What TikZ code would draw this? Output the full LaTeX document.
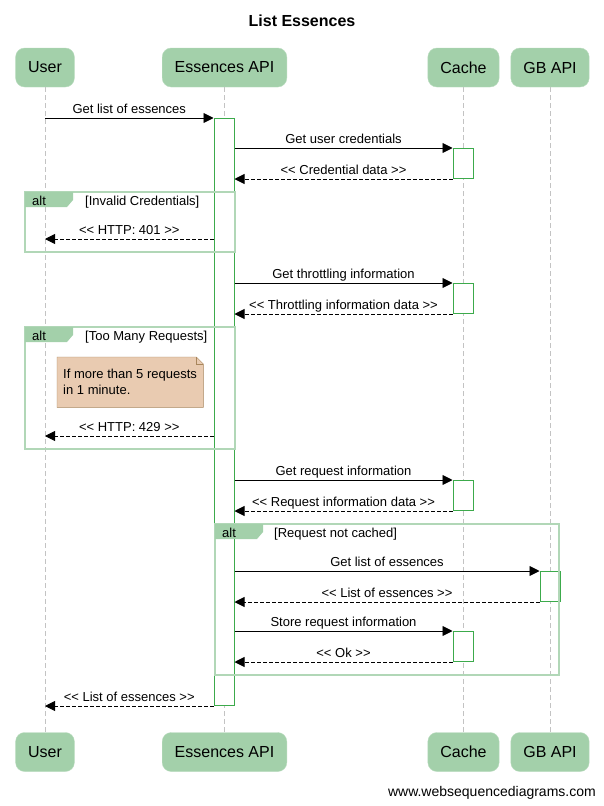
\documentclass[tikz,border=0pt]{standalone}
\usepackage{fontspec}
\setmainfont{Liberation Sans}
\usetikzlibrary{arrows.meta,calc,positioning}

\definecolor{boxgreen}{RGB}{163,208,170}
\definecolor{actgreen}{RGB}{60,170,75}
\definecolor{lifegray}{RGB}{195,195,195}
\definecolor{notefill}{RGB}{233,203,177}
\definecolor{notedraw}{RGB}{168,134,92}

\newcommand{\retopen}{<\kern0pt<}
\newcommand{\retclose}{>\kern0pt>}

\begin{document}
\begin{tikzpicture}[x=1pt, y=-1pt,
	party/.style={rectangle, rounded corners=9pt, fill=boxgreen, draw=boxgreen!75!white, minimum height=39pt, inner xsep=12.5pt, font=\fontsize{16}{19}\selectfont},
	life/.style={draw=lifegray, dash pattern=on 5pt off 3pt, line width=1pt},
	actbar/.style={draw=actgreen, fill=white, minimum width=20pt, inner sep=0pt, anchor=north, line width=1pt},
	msg/.style={-{Triangle[length=10pt,width=10pt]}, line width=0.9pt},
	ret/.style={msg, dash pattern=on 3.5pt off 2.5pt},
	lbl/.style={midway, anchor=base, yshift=4.5pt, inner sep=0pt, font=\fontsize{13}{16}\selectfont},
	altframe/.style={draw=boxgreen!85!white, line width=1.6pt},
	alttab/.style={fill=boxgreen},
	guard/.style={anchor=base west, inner sep=0pt, font=\fontsize{13}{16}\selectfont}
	]
		\useasboundingbox[fill=white] (0,0) rectangle (604,806);
		\node[font=\bfseries\fontsize{16}{19}\selectfont] (title) at (302,20.5) {List Essences};

		% participants
		\node[party] (userTop) at (45,67.5) {User};
		\node[party] (apiTop) at (224.5,67.5) {Essences API};
		\node[party] (cacheTop) at (463.5,67.5) {Cache};
		\node[party] (gbTop) at (550,67.5) {GB API};
		\node[party] (userBot) at (45,752) {User};
		\node[party] (apiBot) at (224.5,752) {Essences API};
		\node[party] (cacheBot) at (463.5,752) {Cache};
		\node[party] (gbBot) at (550,752) {GB API};
		\draw[life] (userTop) -- (userBot);
		\draw[life] (apiTop) -- (apiBot);
		\draw[life] (cacheTop) -- (cacheBot);
		\draw[life] (gbTop) -- (gbBot);

		% activations
		\node[actbar, minimum height=587pt] (apiAct) at (224,118) {};
		\node[actbar, minimum height=30pt] (cAct1) at (463,148) {};
		\node[actbar, minimum height=30pt] (cAct2) at (463,283) {};
		\node[actbar, minimum height=30pt] (cAct3) at (463,480) {};
		\node[actbar, minimum height=30pt] (cAct4) at (463,631) {};
		\node[actbar, minimum height=30pt] (gbAct) at (550,571) {};

		% alt frames
		\draw[altframe] (25,192) rectangle (235,252);
		\fill[alttab] (25,192) -- (73,192) -- (73,200) -- (67,207) -- (25,207) -- cycle;
		\node[guard] (alt1) at (32,205) {alt};
		\node[guard] (cond1) at (85,205) {[Invalid Credentials]};
		\draw[altframe] (25,327) rectangle (235,449);
		\fill[alttab] (25,327) -- (73,327) -- (73,335) -- (67,342) -- (25,342) -- cycle;
		\node[guard] (alt2) at (32,340) {alt};
		\node[guard] (cond2) at (85,340) {[Too Many Requests]};
		\draw[altframe] (215,524) rectangle (559,675);
		\fill[alttab] (215,524) -- (263,524) -- (263,532) -- (257,539) -- (215,539) -- cycle;
		\node[guard] (alt3) at (222,537) {alt};
		\node[guard] (cond3) at (274,537) {[Request not cached]};

		% note
		\node[minimum width=146pt, minimum height=50pt, anchor=north west] (note) at (57,357) {};
		\filldraw[fill=notefill, draw=notedraw] (note.north west) -- ([xshift=-7pt]note.north east) -- ([yshift=-7pt]note.north east) -- (note.south east) -- (note.south west) -- cycle;
		\draw[notedraw] ([xshift=-7pt]note.north east) |- ([yshift=-7pt]note.north east);
		\node[anchor=north west, align=left, inner sep=0pt, font=\fontsize{13}{16}\selectfont] (noteText) at (63,369) {If more than 5 requests\\in 1 minute.};

		% messages
		\coordinate (u401) at (45,239);
		\coordinate (u429) at (45,436);
		\draw[msg] (userTop |- apiAct.north) -- (apiAct.north west) node[lbl]{Get list of essences};
		\draw[msg] (apiAct.east |- cAct1.north) -- (cAct1.north west) node[lbl]{Get user credentials};
		\draw[ret] (cAct1.south west) -- (apiAct.east |- cAct1.south) node[lbl]{\retopen{} Credential data \retclose};
		\draw[ret] (apiAct.west |- u401) -- (u401) node[lbl]{\retopen{} HTTP: 401 \retclose};
		\draw[msg] (apiAct.east |- cAct2.north) -- (cAct2.north west) node[lbl]{Get throttling information};
		\draw[ret] (cAct2.south west) -- (apiAct.east |- cAct2.south) node[lbl]{\retopen{} Throttling information data \retclose};
		\draw[ret] (apiAct.west |- u429) -- (u429) node[lbl]{\retopen{} HTTP: 429 \retclose};
		\draw[msg] (apiAct.east |- cAct3.north) -- (cAct3.north west) node[lbl]{Get request information};
		\draw[ret] (cAct3.south west) -- (apiAct.east |- cAct3.south) node[lbl]{\retopen{} Request information data \retclose};
		\draw[msg] (apiAct.east |- gbAct.north) -- (gbAct.north west) node[lbl]{Get list of essences};
		\draw[ret] (gbAct.south west) -- (apiAct.east |- gbAct.south) node[lbl]{\retopen{} List of essences \retclose};
		\draw[msg] (apiAct.east |- cAct4.north) -- (cAct4.north west) node[lbl]{Store request information};
		\draw[ret] (cAct4.south west) -- (apiAct.east |- cAct4.south) node[lbl]{\retopen{} Ok \retclose};
		\draw[ret] (apiAct.south west) -- (userTop |- apiAct.south) node[lbl]{\retopen{} List of essences \retclose};

		\node[anchor=base east, inner sep=0pt, font=\fontsize{14}{16}\selectfont] (footer) at (596,796) {www.websequencediagrams.com};
	\end{tikzpicture}
\end{document}
